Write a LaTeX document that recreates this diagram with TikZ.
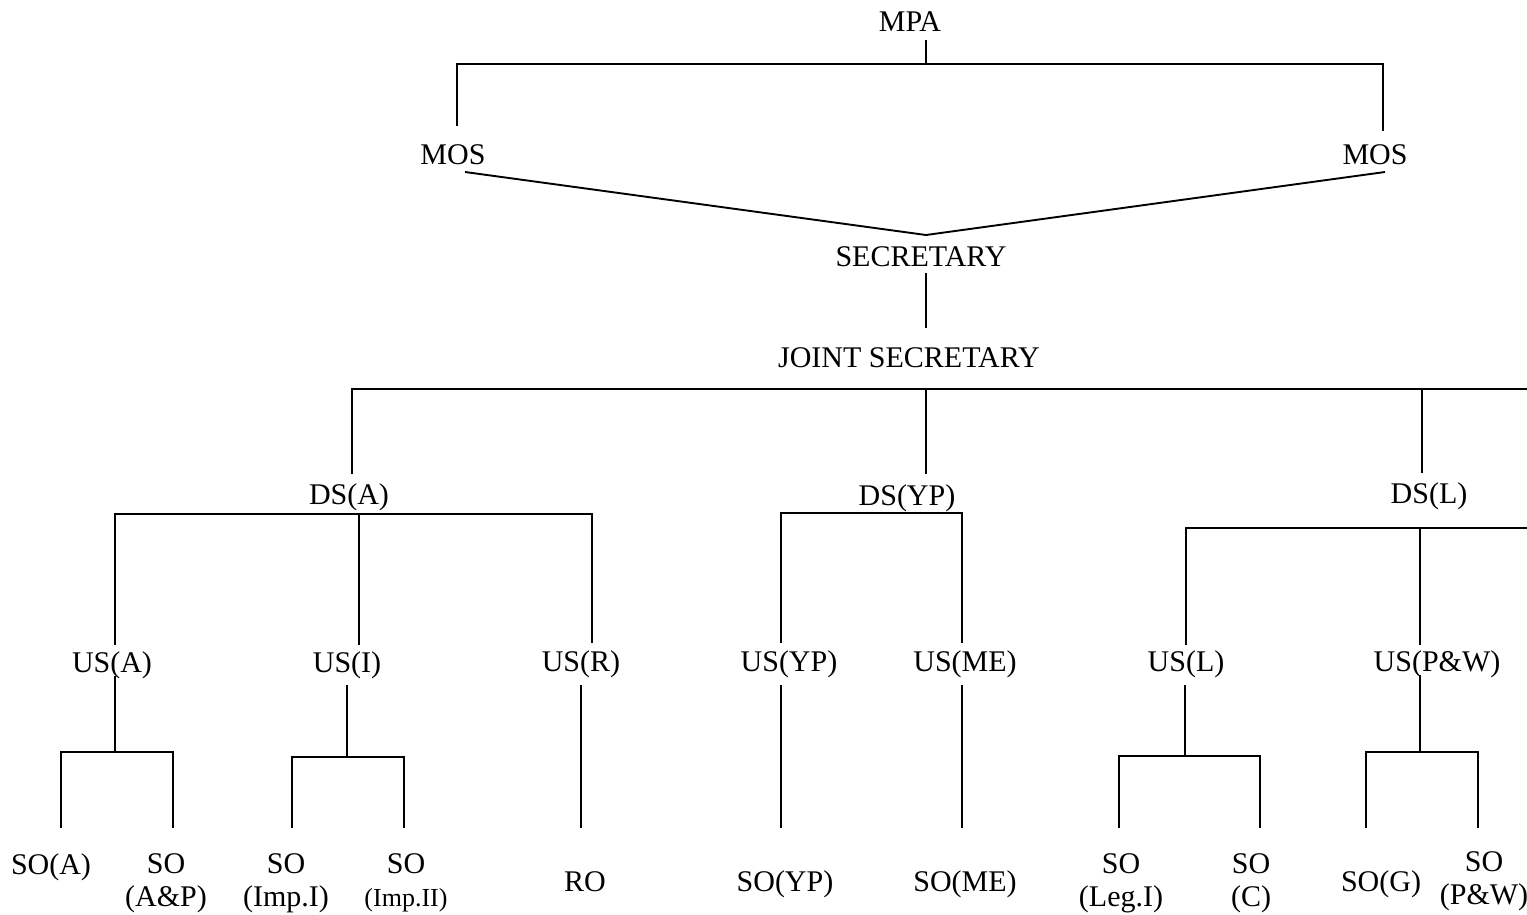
\documentclass[tikz,border=0pt]{standalone}
\usepackage{fontspec}
\setmainfont{Liberation Serif}
\begin{document}
\begin{tikzpicture}[x=1pt,y=-1pt,
  lbl/.style={inner sep=0pt,anchor=base,font=\fontsize{30}{33}\selectfont},
  two/.style={lbl,align=center},
  ln/.style={line width=1.9pt}]
\useasboundingbox (0,0) rectangle (1527,915);
% labels
\node[lbl] (mpa) at (910,32) {MPA};
\node[lbl] (mosl) at (453,165) {MOS};
\node[lbl] (mosr) at (1375,165) {MOS};
\node[lbl] (sec) at (921,266) {SECRETARY};
\node[lbl] (js) at (909,367) {JOINT SECRETARY};
\node[lbl] (dsa) at (349,504) {DS(A)};
\node[lbl] (dsyp) at (907,505) {DS(YP)};
\node[lbl] (dsl) at (1429,503) {DS(L)};
\node[lbl] (usa) at (112,672) {US(A)};
\node[lbl] (usi) at (347,672) {US(I)};
\node[lbl] (usr) at (581,671) {US(R)};
\node[lbl] (usyp) at (789,671) {US(YP)};
\node[lbl] (usme) at (965,671) {US(ME)};
\node[lbl] (usl) at (1186,671) {US(L)};
\node[lbl] (uspw) at (1437,671) {US(P\&W)};
\node[lbl] (soa) at (51,874) {SO(A)};
\node[two] (soap) at (166,906) {SO\\(A\&P)};
\node[two] (soi) at (286,906) {SO\\(Imp.I)};
\node[two] (soii) at (406,906) {SO\\{\fontsize{26}{33}\selectfont(Imp.II)}};
\node[lbl] (ro) at (585,891) {RO};
\node[lbl] (soyp) at (785,891) {SO(YP)};
\node[lbl] (some) at (965,891) {SO(ME)};
\node[two] (sol) at (1121,906) {SO\\(Leg.I)};
\node[two] (soc) at (1251,906) {SO\\(C)};
\node[lbl] (sog) at (1381,891) {SO(G)};
\node[two] (sopw) at (1484,904) {SO\\(P\&W)};
% junction coordinates
\coordinate (a1) at (926,40);  \coordinate (a2) at (926,64);
\coordinate (a3) at (457,64);  \coordinate (a4) at (1383,64);
\coordinate (a5) at (457,126); \coordinate (a6) at (1383,131);
\coordinate (b1) at (465,172); \coordinate (b2) at (926,235); \coordinate (b3) at (1385,172);
\coordinate (c1) at (926,273); \coordinate (c2) at (926,328);
\coordinate (d0) at (352,389); \coordinate (d1) at (1527,389);
\coordinate (d2) at (352,474); \coordinate (d3) at (926,389); \coordinate (d4) at (926,474);
\coordinate (d5) at (1422,389); \coordinate (d6) at (1422,473);
% connectors
\draw[ln] (a1) -- (a2);
\draw[ln] (a5) -- (a3) -- (a4) -- (a6);
\draw[ln] (b1) -- (b2) -- (b3);
\draw[ln] (c1) -- (c2);
\draw[ln] (d2) -- (d0) -- (d1);
\draw[ln] (d3) -- (d4);
\draw[ln] (d5) -- (d6);
% DS(A)
\draw[ln] (115,645) -- (115,514) -- (592,514) -- (592,643);
\draw[ln] (359,514) -- (359,645);
% DS(YP)
\draw[ln] (781,643) -- (781,513) -- (962,513) -- (962,643);
% DS(L)
\draw[ln] (1186,645) -- (1186,528) -- (1527,528);
\draw[ln] (1420,528) -- (1420,645);
% US(A)
\draw[ln] (115,676) -- (115,752);
\draw[ln] (61,828) -- (61,752) -- (173,752) -- (173,828);
% US(I)
\draw[ln] (347,685) -- (347,757);
\draw[ln] (292,828) -- (292,757) -- (404,757) -- (404,828);
% single
\draw[ln] (581,685) -- (581,828);
\draw[ln] (781,685) -- (781,828);
\draw[ln] (962,685) -- (962,828);
% US(L)
\draw[ln] (1185,685) -- (1185,756);
\draw[ln] (1119,828) -- (1119,756) -- (1260,756) -- (1260,828);
% US(P&W)
\draw[ln] (1420,675) -- (1420,752);
\draw[ln] (1366,828) -- (1366,752) -- (1478,752) -- (1478,828);
\end{tikzpicture}
\end{document}
